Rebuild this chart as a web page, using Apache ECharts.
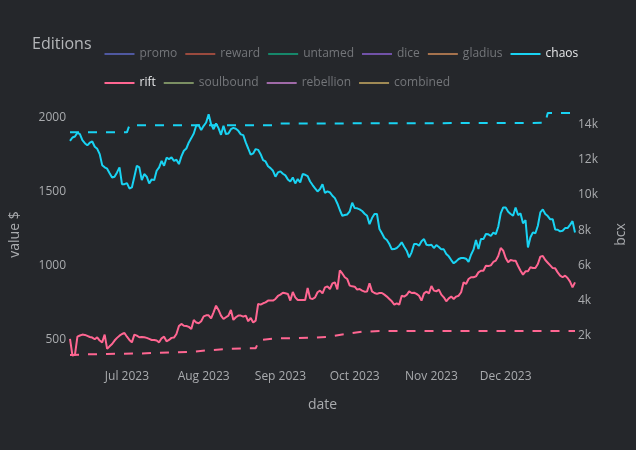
<!DOCTYPE html>
<html><head><meta charset="utf-8">
<script src="https://cdn.jsdelivr.net/npm/echarts@6/dist/echarts.min.js"></script>
<style>html,body{margin:0;padding:0;background:#25272b}#c{width:636px;height:450px}</style>
</head><body><div id="c"></div><script>
// ---- data ----
const editions = ['promo','reward','untamed','dice','gladius','chaos','rift','soulbound','rebellion','combined'];
const editionColors = ['#4f58a0','#9a4a3e','#16876a','#7152a8','#a5724d','#19d3f3','#ff6692','#7b8f63','#a06aa8','#a08a55'];
const activeEditions = ['chaos','rift'];
const monthNames = ['Jan','Feb','Mar','Apr','May','Jun','Jul','Aug','Sep','Oct','Nov','Dec'];

// daily dates, 2023-06-08 .. 2023-12-29
const days = [
'2023-06-08','2023-06-09','2023-06-10','2023-06-11','2023-06-12','2023-06-13','2023-06-14','2023-06-15','2023-06-16','2023-06-17','2023-06-18','2023-06-19','2023-06-20','2023-06-21','2023-06-22','2023-06-23','2023-06-24','2023-06-25','2023-06-26','2023-06-27','2023-06-28','2023-06-29','2023-06-30',
'2023-07-01','2023-07-02','2023-07-03','2023-07-04','2023-07-05','2023-07-06','2023-07-07','2023-07-08','2023-07-09','2023-07-10','2023-07-11','2023-07-12','2023-07-13','2023-07-14','2023-07-15','2023-07-16','2023-07-17','2023-07-18','2023-07-19','2023-07-20','2023-07-21','2023-07-22','2023-07-23','2023-07-24','2023-07-25','2023-07-26','2023-07-27','2023-07-28','2023-07-29','2023-07-30','2023-07-31',
'2023-08-01','2023-08-02','2023-08-03','2023-08-04','2023-08-05','2023-08-06','2023-08-07','2023-08-08','2023-08-09','2023-08-10','2023-08-11','2023-08-12','2023-08-13','2023-08-14','2023-08-15','2023-08-16','2023-08-17','2023-08-18','2023-08-19','2023-08-20','2023-08-21','2023-08-22','2023-08-23','2023-08-24','2023-08-25','2023-08-26','2023-08-27','2023-08-28','2023-08-29','2023-08-30','2023-08-31',
'2023-09-01','2023-09-02','2023-09-03','2023-09-04','2023-09-05','2023-09-06','2023-09-07','2023-09-08','2023-09-09','2023-09-10','2023-09-11','2023-09-12','2023-09-13','2023-09-14','2023-09-15','2023-09-16','2023-09-17','2023-09-18','2023-09-19','2023-09-20','2023-09-21','2023-09-22','2023-09-23','2023-09-24','2023-09-25','2023-09-26','2023-09-27','2023-09-28','2023-09-29','2023-09-30',
'2023-10-01','2023-10-02','2023-10-03','2023-10-04','2023-10-05','2023-10-06','2023-10-07','2023-10-08','2023-10-09','2023-10-10','2023-10-11','2023-10-12','2023-10-13','2023-10-14','2023-10-15','2023-10-16','2023-10-17','2023-10-18','2023-10-19','2023-10-20','2023-10-21','2023-10-22','2023-10-23','2023-10-24','2023-10-25','2023-10-26','2023-10-27','2023-10-28','2023-10-29','2023-10-30','2023-10-31',
'2023-11-01','2023-11-02','2023-11-03','2023-11-04','2023-11-05','2023-11-06','2023-11-07','2023-11-08','2023-11-09','2023-11-10','2023-11-11','2023-11-12','2023-11-13','2023-11-14','2023-11-15','2023-11-16','2023-11-17','2023-11-18','2023-11-19','2023-11-20','2023-11-21','2023-11-22','2023-11-23','2023-11-24','2023-11-25','2023-11-26','2023-11-27','2023-11-28','2023-11-29','2023-11-30',
'2023-12-01','2023-12-02','2023-12-03','2023-12-04','2023-12-05','2023-12-06','2023-12-07','2023-12-08','2023-12-09','2023-12-10','2023-12-11','2023-12-12','2023-12-13','2023-12-14','2023-12-15','2023-12-16','2023-12-17','2023-12-18','2023-12-19','2023-12-20','2023-12-21','2023-12-22','2023-12-23','2023-12-24','2023-12-25','2023-12-26','2023-12-27','2023-12-28','2023-12-29'];

// value $ (left axis)
const chaosValue = [
1840,1863,1870,1895,1886,1845,1825,1810,1828,1836,1801,1787,1751,1677,1662,1653,1623,1594,1599,1628,1662,1549,1549,
1556,1520,1527,1599,1673,1662,1576,1617,1599,1554,1581,1576,1639,1662,1706,1673,1727,1718,1729,1706,1713,1684,1736,1774,1789,1830,1859,1890,1944,1946,1913,
1942,1964,2020,1953,1919,1958,1926,1881,1942,1886,1890,1919,1928,1922,1908,1884,1879,1830,1789,1747,1756,1785,1780,1751,1711,1702,1670,1657,1639,1599,1628,
1635,1619,1608,1581,1567,1594,1554,1583,1561,1617,1612,1603,1567,1543,1520,1500,1516,1549,1490,1500,1493,1471,1455,1419,1375,1336,1341,1345,1366,1424,
1388,1386,1379,1368,1350,1336,1280,1321,1348,1348,1247,1218,1186,1173,1146,1110,1112,1119,1135,1157,1128,1101,1056,1090,1146,1146,1135,1164,1179,1141,1137,
1141,1119,1139,1126,1110,1110,1079,1063,1038,1016,1029,1045,1052,1052,1047,1025,1074,1108,1173,1112,1179,1179,1213,1211,1200,1222,1213,1262,1352,1392,
1392,1363,1348,1336,1392,1341,1352,1285,1307,1123,1191,1224,1218,1269,1359,1379,1348,1334,1312,1312,1244,1242,1231,1235,1253,1253,1275,1300,1224];

const riftValue = [
507,395,400,522,530,536,534,527,520,516,505,518,496,484,536,440,457,473,496,514,529,540,547,
522,500,484,536,529,518,520,518,514,507,500,500,496,484,511,522,491,500,514,516,540,594,608,596,594,588,574,635,617,612,626,
659,666,666,646,686,731,702,664,641,653,664,702,635,653,664,664,657,664,626,648,617,630,742,738,747,753,765,765,765,776,796,
805,818,814,810,765,823,787,769,769,769,769,850,780,776,787,821,832,814,854,861,843,881,888,840,968,948,922,910,866,861,
859,839,843,832,825,827,881,827,816,810,816,816,805,792,776,760,738,747,738,798,792,803,827,816,818,810,798,765,814,825,814,
863,832,827,839,805,787,760,780,792,776,792,798,821,888,877,910,922,922,928,955,966,966,1000,998,1002,1025,1034,1065,1119,1101,
1052,1023,1038,1034,1034,998,966,940,962,962,989,984,984,1011,1061,1065,1038,1020,1002,984,982,955,933,922,933,917,893,854,888];

// bcx (right axis)
const chaosBcxDates = ['2023-06-08','2023-07-01','2023-07-02','2023-08-29','2023-08-31','2023-12-17','2023-12-18','2023-12-29'];
const chaosBcx = [13560,13560,13960,13960,14060,14100,14660,14660];

const riftBcxDates = ['2023-06-08','2023-06-16','2023-06-23','2023-06-30','2023-07-07','2023-07-14','2023-07-21','2023-07-28','2023-08-04','2023-08-11','2023-08-19','2023-08-22','2023-08-23','2023-08-24','2023-08-30','2023-09-06','2023-09-13','2023-09-20','2023-09-27','2023-10-04','2023-10-11','2023-12-29'];
const riftBcx = [920,960,980,990,1010,1050,1070,1110,1200,1260,1300,1300,1600,1770,1870,1870,1900,1940,2110,2240,2280,2280];

// ---- chart ----
const pair = (d, v) => d.map((x, i) => [x, v[i]]);
const textCol = '#a9abae';
const font = '"Open Sans", "Noto Sans", sans-serif';
const colorOf = n => editionColors[editions.indexOf(n)];

const series = [];
editions.forEach(n => {
  if (n === 'chaos') {
    series.push({name:'chaos', type:'line', yAxisIndex:0, data:pair(days, chaosValue), symbol:'none', clip:false,
      lineStyle:{color:colorOf(n), width:2}, itemStyle:{color:colorOf(n)}});
    series.push({name:'chaos bcx', type:'line', yAxisIndex:1, data:pair(chaosBcxDates, chaosBcx), symbol:'none', clip:false,
      lineStyle:{color:colorOf(n), width:2, type:[9,9]}, itemStyle:{color:colorOf(n)}});
  } else if (n === 'rift') {
    series.push({name:'rift', type:'line', yAxisIndex:0, data:pair(days, riftValue), symbol:'none', clip:false,
      lineStyle:{color:colorOf(n), width:2}, itemStyle:{color:colorOf(n)}});
    series.push({name:'rift bcx', type:'line', yAxisIndex:1, data:pair(riftBcxDates, riftBcx), symbol:'none', clip:false,
      lineStyle:{color:colorOf(n), width:2, type:[9,9]}, itemStyle:{color:colorOf(n)}});
  } else {
    series.push({name:n, type:'line', yAxisIndex:0, data:[], symbol:'none',
      lineStyle:{color:colorOf(n), width:2}, itemStyle:{color:colorOf(n)}});
  }
});

const legendItem = n => ({name:n, icon:'rect',
  itemStyle:{color:colorOf(n)},
  textStyle:{color: activeEditions.includes(n) ? '#e6e7e9' : '#74767a'}});
const legendBase = {orient:'horizontal', left:104.5, padding:0, itemWidth:30, itemHeight:2, itemGap:8,
  textStyle:{fontFamily:font, fontSize:12}, selectedMode:false};

const chart = echarts.init(document.getElementById('c'), null, {renderer:'canvas'});
chart.setOption({
  backgroundColor:'#25272b',
  animation:false,
  title:{text:'Editions', left:32, top:36, padding:0, textStyle:{color:'#b4b6b9', fontFamily:font, fontSize:16, fontWeight:'normal'}},
  legend:[
    Object.assign({}, legendBase, {top:48, data:editions.slice(0,6).map(legendItem)}),
    Object.assign({}, legendBase, {top:77, data:editions.slice(6).map(legendItem)})
  ],
  grid:{left:64, right:55, top:113, bottom:94, containLabel:false},
  xAxis:{type:'time', min:'2023-06-08', max:'2023-12-29', splitNumber:6,
    name:'date', nameLocation:'middle', nameGap:42, nameTextStyle:{color:textCol, fontFamily:font, fontSize:14},
    axisLine:{show:false}, axisTick:{show:false}, splitLine:{show:false},
    axisLabel:{color:textCol, fontFamily:font, fontSize:12, margin:15, showMinLabel:false, showMaxLabel:false,
      formatter: v => { const d = new Date(v); return d.getDate() === 1 ? monthNames[d.getMonth()] + ' ' + d.getFullYear() : ''; }}},
  yAxis:[
    {type:'value', min:392, max:2028, splitNumber:3, position:'left',
     name:'value $', nameLocation:'middle', nameRotate:90, nameGap:48, nameTextStyle:{color:textCol, fontFamily:font, fontSize:14},
     axisLine:{show:false}, axisTick:{show:false}, splitLine:{show:false},
     axisLabel:{color:textCol, fontFamily:font, fontSize:12, margin:4, showMinLabel:false, showMaxLabel:false,
       formatter: v => (v % 500 === 0 ? String(v) : '')}},
    {type:'value', min:862, max:14660, splitNumber:7, position:'right',
     name:'bcx', nameLocation:'middle', nameRotate:90, nameGap:39, nameTextStyle:{color:textCol, fontFamily:font, fontSize:14},
     axisLine:{show:false}, axisTick:{show:false}, splitLine:{show:false},
     axisLabel:{color:textCol, fontFamily:font, fontSize:12, margin:3, showMinLabel:false, showMaxLabel:false,
       formatter: v => (v % 2000 === 0 ? (v/1000) + 'k' : '')}}
  ],
  series: series
});
</script></body></html>
